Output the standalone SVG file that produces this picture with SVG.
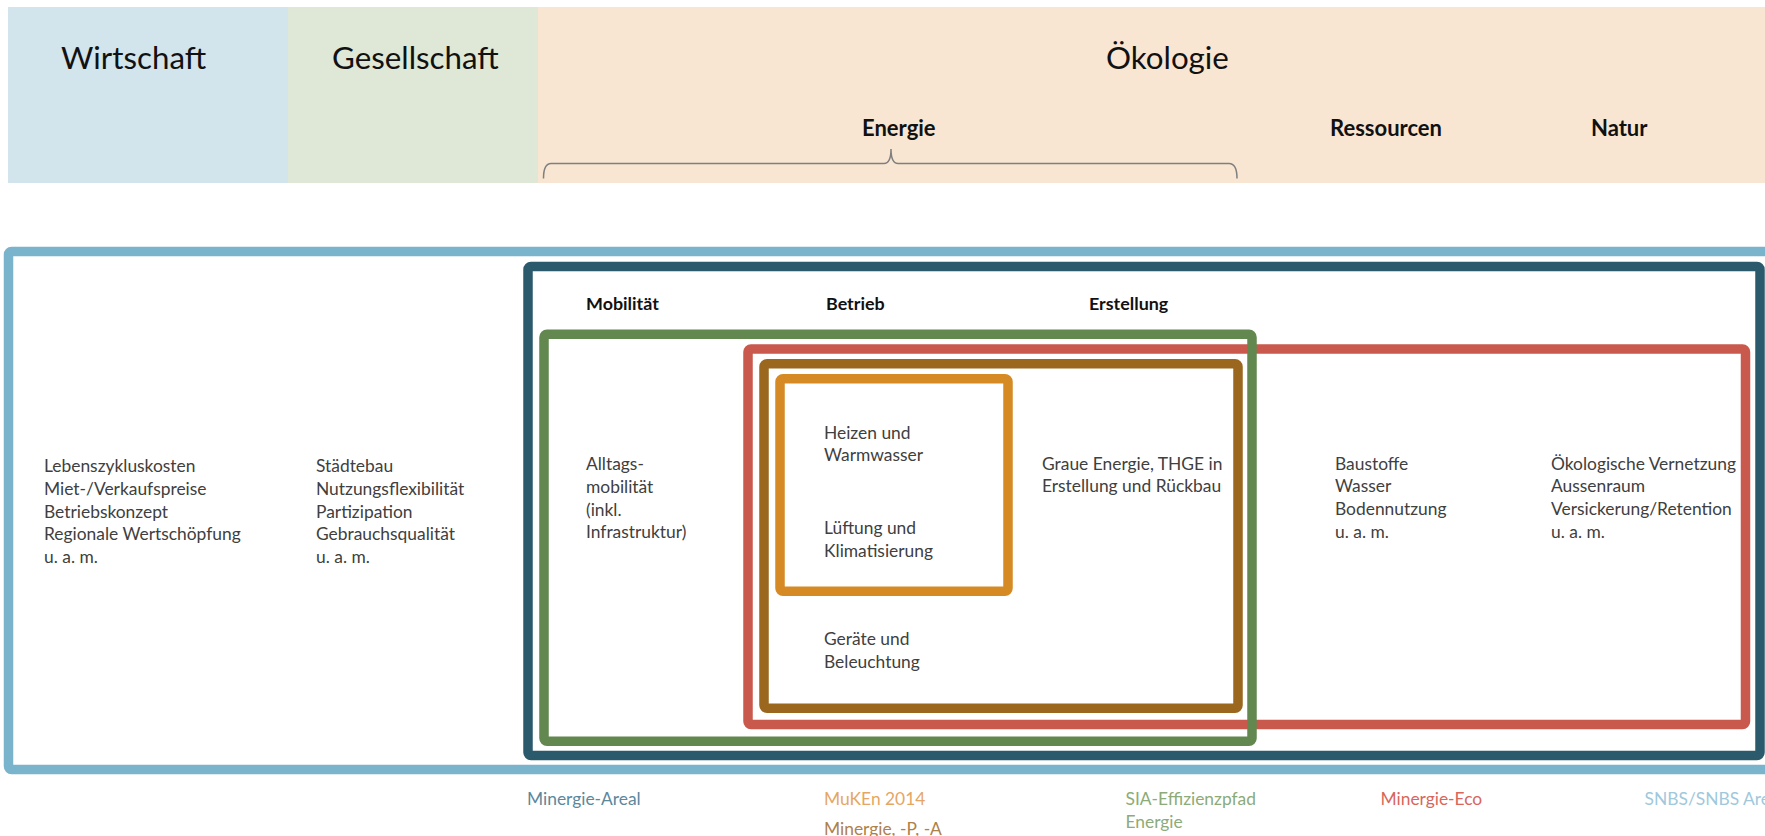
<svg xmlns="http://www.w3.org/2000/svg" width="1765" height="836" viewBox="0 0 1765 836">
<style>
text{font-family:Lato,"Liberation Sans",sans-serif;}
.h{font-size:31.3px;fill:#111;}
.hb{font-size:22px;font-weight:bold;fill:#111;}
.b{font-size:17.9px;font-weight:bold;fill:#111;}
.t{font-size:17.4px;fill:#404040;}
.box{fill:none;stroke-width:9.5;stroke-linejoin:round;}
.l{font-size:17.4px;}
</style>
<rect width="1765" height="836" fill="#fff"/>
<g id="header">
<g id="h-wirtschaft"><rect x="8" y="7" width="280" height="176" fill="#D2E4EC"/><text class="h" x="61" y="69">Wirtschaft</text></g>
<g id="h-gesellschaft"><rect x="288" y="7" width="250" height="176" fill="#DFE8D7"/><text class="h" x="332" y="69">Gesellschaft</text></g>
<g id="h-oekologie"><rect x="538" y="7" width="1227" height="176" fill="#F8E6D2"/><text class="h" x="1106" y="69">Ökologie</text>
<text class="hb" x="862" y="136">Energie</text>
<text class="hb" x="1330" y="136">Ressourcen</text>
<text class="hb" x="1591" y="136">Natur</text></g>
</g>
<g id="connectors">
<path d="M543.5,178.5 Q543.5,163.5 551,163.5 L884,163.5 Q891,163.5 891,149 Q891,163.5 898,163.5 L1229,163.5 Q1237,163.5 1237,178.5" fill="none" stroke="#7F7F7F" stroke-width="1.5"/>
</g>
<g id="snbs"><rect class="box" x="8.5" y="251.5" width="1780" height="518" rx="3" stroke="#7AB4CC"/>
<text class="t" x="44" y="472"><tspan x="44">Lebenszykluskosten</tspan><tspan x="44" dy="22.8">Miet-/Verkaufspreise</tspan><tspan x="44" dy="22.8">Betriebskonzept</tspan><tspan x="44" dy="22.8">Regionale Wertschöpfung</tspan><tspan x="44" dy="22.8">u. a. m.</tspan></text>
<text class="t" x="316" y="472"><tspan x="316">Städtebau</tspan><tspan x="316" dy="22.8">Nutzungsflexibilität</tspan><tspan x="316" dy="22.8">Partizipation</tspan><tspan x="316" dy="22.8">Gebrauchsqualität</tspan><tspan x="316" dy="22.8">u. a. m.</tspan></text>
</g>
<g id="minergie-areal"><rect class="box" x="528" y="266.5" width="1232" height="489" rx="3" stroke="#2C5A6D"/>
<text class="b" x="586" y="310">Mobilität</text>
<text class="b" x="826" y="310">Betrieb</text>
<text class="b" x="1089" y="310">Erstellung</text>
</g>
<g id="minergie-eco"><rect class="box" x="748" y="349" width="997.5" height="375.5" rx="3" stroke="#C9594C"/>
<text class="t" x="1335" y="469.5"><tspan x="1335">Baustoffe</tspan><tspan x="1335" dy="22.8">Wasser</tspan><tspan x="1335" dy="22.8">Bodennutzung</tspan><tspan x="1335" dy="22.8">u. a. m.</tspan></text>
<text class="t" x="1551" y="469.5"><tspan x="1551">Ökologische Vernetzung</tspan><tspan x="1551" dy="22.8">Aussenraum</tspan><tspan x="1551" dy="22.8">Versickerung/Retention</tspan><tspan x="1551" dy="22.8">u. a. m.</tspan></text>
</g>
<g id="sia-effizienzpfad"><rect class="box" x="544" y="334.3" width="708" height="407" rx="3" stroke="#63884F"/>
<text class="t" x="586" y="470"><tspan x="586">Alltags-</tspan><tspan x="586" dy="22.8">mobilität</tspan><tspan x="586" dy="22.8">(inkl.</tspan><tspan x="586" dy="22.8">Infrastruktur)</tspan></text>
</g>
<g id="minergie"><rect class="box" x="764" y="363.8" width="474" height="344.5" rx="3" stroke="#9B661E"/>
<text class="t" x="1042" y="469.5"><tspan x="1042">Graue Energie, THGE in</tspan><tspan x="1042" dy="22.8">Erstellung und Rückbau</tspan></text>
<text class="t" x="824" y="645"><tspan x="824">Geräte und</tspan><tspan x="824" dy="22.8">Beleuchtung</tspan></text>
</g>
<g id="muken"><rect class="box" x="780" y="378.8" width="228" height="212.5" rx="3" stroke="#D68A24"/>
<text class="t" x="824" y="438.5"><tspan x="824">Heizen und</tspan><tspan x="824" dy="22.8">Warmwasser</tspan></text>
<text class="t" x="824" y="534.3"><tspan x="824">Lüftung und</tspan><tspan x="824" dy="22.8">Klimatisierung</tspan></text>
</g>
<g id="labels">
<text class="l" x="527" y="805" fill="#5A889D">Minergie-Areal</text>
<text class="l" x="824" y="805" fill="#E6A663">MuKEn 2014</text>
<text class="l" x="824" y="835" fill="#AE8148">Minergie, -P, -A</text>
<text class="l" x="1125.5" y="805" fill="#8CAB78"><tspan x="1125.5">SIA-Effizienzpfad</tspan><tspan x="1125.5" dy="22.8">Energie</tspan></text>
<text class="l" x="1380.5" y="805" fill="#D8665B">Minergie-Eco</text>
<text class="l" x="1644.5" y="805" fill="#A0C8DC">SNBS/SNBS Areal</text>
</g>
</svg>
